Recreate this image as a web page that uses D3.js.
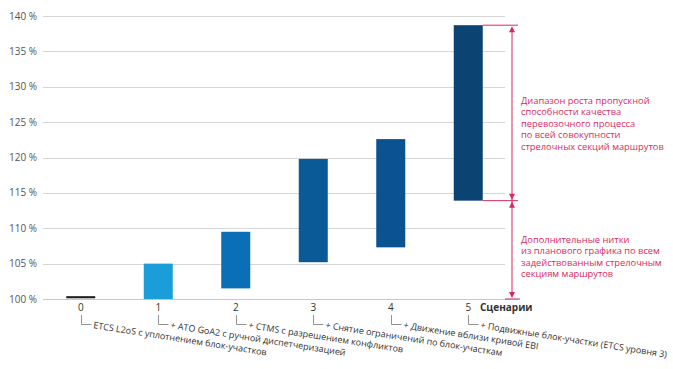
<!DOCTYPE html>
<html><head><meta charset="utf-8">
<script src="https://cdn.jsdelivr.net/npm/d3@7"></script>
<style>
body{margin:0;background:#fff;}
svg{display:block;font-family:"Open Sans",sans-serif;}
</style></head>
<body>
<svg id="chart" width="673" height="369"></svg>
<script>
const scenarios = ["0","1","2","3","4","5"];
const lowValues  = [100.1, 100, 101.5, 105.2, 107.3, 113.9];
const highValues = [100.4, 105, 109.5, 119.8, 122.6, 138.7];
const barColors = ["#1f1f1f","#1a9dd9","#0a6fb6","#0a5a98","#0b5290","#0b4372"];
const scenarioLabels = [
  "ETCS L2oS с уплотнением блок-участков",
  "+ ATO GoA2 с ручной диспетчеризацией",
  "+ CTMS с разрешением конфликтов",
  "+ Снятие ограничений по блок-участкам",
  "+ Движение вблизи кривой EBI",
  "+ Подвижные блок-участки (ETCS уровня 3)"
];
const yTicks = [100,105,110,115,120,125,130,135,140];
const noteRange = ["Диапазон роста пропускной","способности качества","перевозочного процесса","по всей совокупности","стрелочных секций маршрутов"];
const noteExtra = ["Дополнительные нитки","из планового графика по всем","задействованным стрелочным","секциям маршрутов"];
const axisTitle = "Сценарии";

const svg = d3.select("#chart");
const y = d3.scaleLinear().domain([100,140]).range([299,16]);
const x = d3.scalePoint().domain(scenarios).range([42,507]).padding(0.5);
const barW = 29;
const pink = "#d42a5f";

// gridlines
svg.append("g").selectAll("line").data(yTicks.slice(1)).join("line")
  .attr("x1",43).attr("x2",505)
  .attr("y1",d=>Math.round(y(d))+0.5).attr("y2",d=>Math.round(y(d))+0.5)
  .attr("stroke","#d6d6d6").attr("stroke-width",1);
// base axis line
svg.append("line").attr("x1",43).attr("x2",518)
  .attr("y1",Math.round(y(100))+0.5).attr("y2",Math.round(y(100))+0.5)
  .attr("stroke","#c8c8c8");

// y tick labels
svg.append("g").selectAll("text").data(yTicks).join("text")
  .attr("x",37).attr("y",d=>y(d)).attr("dy","0.35em")
  .attr("text-anchor","end").attr("font-size",10).attr("fill","#555")
  .text(d=>d+" %");

// bars
svg.append("g").selectAll("rect").data(scenarios).join("rect")
  .attr("x",d=>x(d)-barW/2).attr("width",barW)
  .attr("y",(d,i)=>y(highValues[i]))
  .attr("height",(d,i)=>y(lowValues[i])-y(highValues[i]))
  .attr("fill",(d,i)=>barColors[i]);

// category numbers
svg.append("g").selectAll("text").data(scenarios).join("text")
  .attr("x",d=>x(d)).attr("y",311).attr("text-anchor","middle")
  .attr("font-size",10).attr("fill","#333").text(d=>d);
svg.append("text").attr("x",480).attr("y",311).attr("font-size",10)
  .attr("font-weight","bold").attr("fill","#333").text(axisTitle);

// brackets and rotated labels
const lab = svg.append("g");
scenarios.forEach((d,i)=>{
  const cx = Math.round(x(d))+0.5;
  lab.append("path").attr("d",`M${cx},315V324.5H${cx+10}`)
    .attr("fill","none").attr("stroke","#777").attr("stroke-width",0.8);
  lab.append("text")
    .attr("transform",`translate(${cx+12},325) rotate(9)`)
    .attr("dy","0.35em").attr("font-size",9).attr("fill","#333")
    .text(scenarioLabels[i]);
});

// annotation
const ax = 512;
const top5 = y(highValues[5]), bot5 = y(lowValues[5]), base = y(100);
const ann = svg.append("g").attr("stroke",pink).attr("fill",pink);
ann.append("line").attr("x1",x("5")+barW/2).attr("x2",518).attr("y1",top5).attr("y2",top5);
ann.append("line").attr("x1",x("5")+barW/2).attr("x2",518).attr("y1",bot5).attr("y2",bot5);
ann.append("line").attr("x1",505).attr("x2",520).attr("y1",base).attr("y2",base);
ann.append("line").attr("x1",ax).attr("x2",ax).attr("y1",top5+4).attr("y2",base-4);
function arrow(yTip, dir){ // dir -1 up, +1 down
  ann.append("path").attr("stroke","none")
    .attr("d",`M${ax},${yTip}L${ax-3},${yTip-dir*6}L${ax+3},${yTip-dir*6}Z`);
}
arrow(top5+1,-1); arrow(bot5-1,1); arrow(bot5+1,-1); arrow(base-1,1);

const t1 = svg.append("text").attr("font-size",9.3).attr("fill",pink);
noteRange.forEach((s,i)=>t1.append("tspan").attr("x",521).attr("y",103.5+i*11.6).text(s));
const t2 = svg.append("text").attr("font-size",9.3).attr("fill",pink);
noteExtra.forEach((s,i)=>t2.append("tspan").attr("x",521).attr("y",242.5+i*11.5).text(s));
</script>
</body></html>
